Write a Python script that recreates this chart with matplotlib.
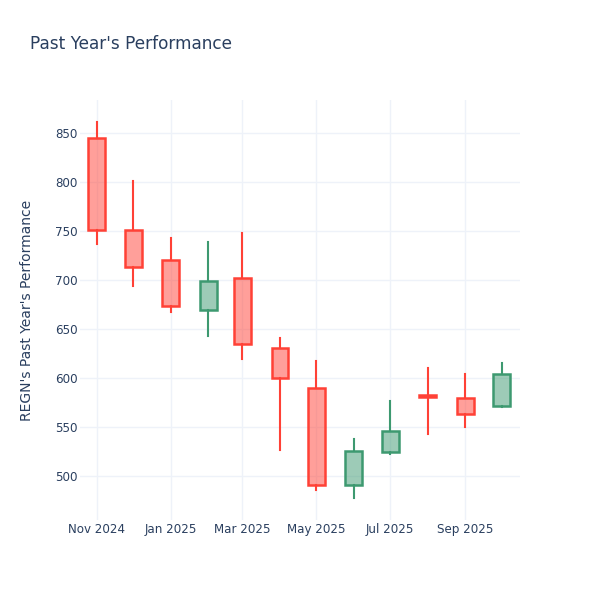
import matplotlib
matplotlib.use('Agg')
from matplotlib import pyplot as plt
import matplotlib.dates as mdates
import datetime as dt

months = ['2024-11-01', '2024-12-01', '2025-01-01', '2025-02-01', '2025-03-01', '2025-04-01',
          '2025-05-01', '2025-06-01', '2025-07-01', '2025-08-01', '2025-09-01', '2025-10-01']
opens = [845, 751, 721, 669, 702, 631, 590, 491, 524, 583, 580, 571]
highs = [862, 801, 743, 739, 748, 641, 617, 538, 577, 610, 604, 615]
lows = [737, 694, 667, 643, 619, 526, 486, 477, 522, 543, 550, 570]
closes = [751, 713, 674, 699, 635, 600, 491, 525, 546, 581, 563, 604]

up = '#3D9970'
down = '#FF4136'
text_col = '#2a3f5f'
grid_col = '#EEF2F9'

dates = [dt.datetime.strptime(d, '%Y-%m-%d') for d in months]
xs = mdates.date2num(dates)

fig = plt.figure(figsize=(6, 6), dpi=100)
ax = fig.add_axes([80/600, 80/600, 440/600, 420/600])

width = 14
for x, o, h, l, c in zip(xs, opens, highs, lows, closes):
    col = up if c >= o else down
    lo_b, hi_b = min(o, c), max(o, c)
    ax.plot([x, x], [hi_b, h], color=col, lw=1.5, zorder=2)
    ax.plot([x, x], [l, lo_b], color=col, lw=1.5, zorder=2)
    ax.add_patch(plt.Rectangle((x - width/2, lo_b), width, max(hi_b - lo_b, 1),
                               facecolor=col, alpha=0.5, edgecolor='none', zorder=3))
    ax.add_patch(plt.Rectangle((x - width/2, lo_b), width, max(hi_b - lo_b, 1),
                               facecolor='none', edgecolor=col, lw=1.8, zorder=4))

ax.set_xlim(xs[0] - 14, xs[-1] + 15)
ax.set_ylim(455, 884)

ax.xaxis.set_major_locator(mdates.MonthLocator(bymonth=[1, 3, 5, 7, 9, 11]))
ax.xaxis.set_major_formatter(mdates.DateFormatter('%b %Y'))
ax.set_yticks([500, 550, 600, 650, 700, 750, 800, 850])

ax.grid(True, color=grid_col, lw=1, zorder=0)
ax.set_axisbelow(True)
for s in ax.spines.values():
    s.set_visible(False)
ax.tick_params(length=0, labelsize=8.6, colors=text_col)
ax.tick_params(axis='x', pad=2.5)
ax.tick_params(axis='y', pad=1.5)

ax.set_ylabel("REGN's Past Year's Performance", fontsize=10, color=text_col, labelpad=15)
fig.text(30/600, 1 - 44/600, "Past Year's Performance", fontsize=12.2, color=text_col,
         va='center', ha='left')

plt.savefig('out.png', dpi=100)
